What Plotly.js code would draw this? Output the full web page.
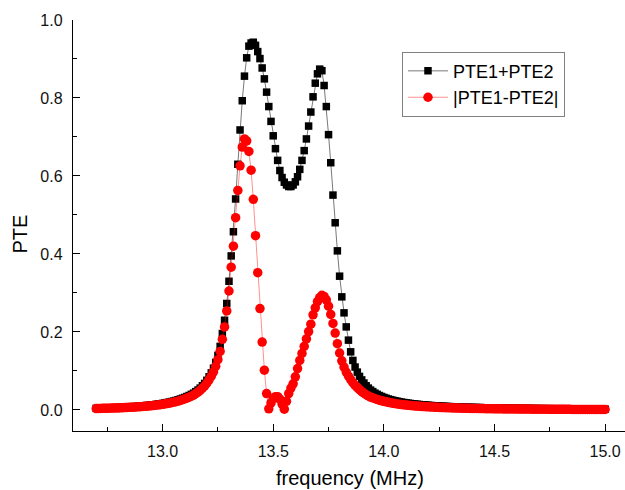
<!DOCTYPE html>
<html>
<head>
<meta charset="utf-8">
<script src="https://cdn.plot.ly/plotly-3.0.1.min.js"></script>
<style>html,body{margin:0;padding:0;background:#fff;}#chart{width:625px;height:490px;}</style>
</head>
<body>
<div id="chart"></div>
<script>
// frequency (MHz)
var frequency = [
12.70,12.71,12.72,12.73,12.74,12.75,12.76,12.77,12.78,12.79,
12.80,12.81,12.82,12.83,12.84,12.85,12.86,12.87,12.88,12.89,
12.90,12.91,12.92,12.93,12.94,12.95,12.96,12.97,12.98,12.99,
13.00,13.01,13.02,13.03,13.04,13.05,13.06,13.07,13.08,13.09,
13.10,13.11,13.12,13.13,13.14,13.15,13.16,13.17,13.18,13.19,
13.20,13.21,13.22,13.23,13.24,13.25,13.26,13.27,13.28,13.29,
13.30,13.31,13.32,13.33,13.34,13.35,13.36,13.37,13.38,13.39,
13.40,13.41,13.42,13.43,13.44,13.45,13.46,13.47,13.48,13.49,
13.50,13.51,13.52,13.53,13.54,13.55,13.56,13.57,13.58,13.59,
13.60,13.61,13.62,13.63,13.64,13.65,13.66,13.67,13.68,13.69,
13.70,13.71,13.72,13.73,13.74,13.75,13.76,13.77,13.78,13.79,
13.80,13.81,13.82,13.83,13.84,13.85,13.86,13.87,13.88,13.89,
13.90,13.91,13.92,13.93,13.94,13.95,13.96,13.97,13.98,13.99,
14.00,14.01,14.02,14.03,14.04,14.05,14.06,14.07,14.08,14.09,
14.10,14.11,14.12,14.13,14.14,14.15,14.16,14.17,14.18,14.19,
14.20,14.21,14.22,14.23,14.24,14.25,14.26,14.27,14.28,14.29,
14.30,14.31,14.32,14.33,14.34,14.35,14.36,14.37,14.38,14.39,
14.40,14.41,14.42,14.43,14.44,14.45,14.46,14.47,14.48,14.49,
14.50,14.51,14.52,14.53,14.54,14.55,14.56,14.57,14.58,14.59,
14.60,14.61,14.62,14.63,14.64,14.65,14.66,14.67,14.68,14.69,
14.70,14.71,14.72,14.73,14.74,14.75,14.76,14.77,14.78,14.79,
14.80,14.81,14.82,14.83,14.84,14.85,14.86,14.87,14.88,14.89,
14.90,14.91,14.92,14.93,14.94,14.95,14.96,14.97,14.98,14.99,
15.00
];

// PTE1+PTE2
var pteSum = [
0.0042,0.0044,0.0046,0.0048,0.0050,0.0052,0.0054,0.0056,0.0058,0.0060,
0.0062,0.0065,0.0068,0.0071,0.0074,0.0077,0.0081,0.0085,0.0089,0.0093,
0.0098,0.0103,0.0108,0.0114,0.0120,0.0127,0.0134,0.0142,0.0150,0.0159,
0.0168,0.0178,0.0189,0.0201,0.0214,0.0228,0.0243,0.026,0.028,0.030,
0.032,0.0345,0.037,0.040,0.043,0.047,0.051,0.056,0.062,0.068,
0.076,0.085,0.095,0.107,0.122,0.140,
0.163,0.196,0.230,0.273,0.330,0.395,0.457,0.541,0.630,0.718,
0.793,0.856,0.903,0.933,0.941,0.943,0.935,0.919,0.901,0.877,
0.849,0.815,0.778,0.740,0.703,0.670,0.640,0.614,0.596,0.584,
0.577,0.573,0.573,0.577,0.585,0.598,0.617,0.640,0.665,0.695,
0.728,0.764,0.803,0.838,0.862,0.874,0.870,0.832,0.778,0.706,
0.634,0.551,0.480,0.408,0.343,0.290,0.249,0.213,0.179,0.149,
0.127,0.110,0.097,0.086,0.077,0.069,0.062,0.056,0.051,0.047,
0.043,0.040,0.037,0.0345,0.032,0.030,0.028,0.0265,0.025,0.0236,
0.0224,0.0212,0.0201,0.0191,0.0182,0.0174,0.0166,0.0159,0.0152,0.0146,
0.0140,0.0134,0.0129,0.0124,0.0119,0.0115,0.0111,0.0107,0.0103,0.0100,
0.0097,0.0094,0.0091,0.0088,0.0085,0.0083,0.0080,0.0078,0.0076,0.0074,
0.0072,0.0070,0.0068,0.0066,0.0065,0.0063,0.0062,0.0060,0.0059,0.0057,
0.0056,0.0055,0.0054,0.0052,0.0051,0.0050,0.0049,0.0048,0.0047,0.0046,
0.0045,0.0044,0.0043,0.0043,0.0042,0.0041,0.0040,0.0040,0.0039,0.0038,
0.0038,0.0037,0.0036,0.0036,0.0035,0.0034,0.0034,0.0033,0.0033,0.0032,
0.0032,0.0031,0.0031,0.0030,0.0030,0.0029,0.0029,0.0028,0.0028,0.0028,
0.0027,0.0027,0.0026,0.0026,0.0026,0.0025,0.0025,0.0025,0.0024,0.0024,
0.0024,0.0023,0.0023,0.0023,0.0022
];

// |PTE1-PTE2|
var pteDiff = [
0.0036,0.0038,0.0039,0.0041,0.0043,0.0044,0.0046,0.0048,0.0049,0.0051,
0.0053,0.0055,0.0058,0.0060,0.0063,0.0066,0.0069,0.0072,0.0076,0.0079,
0.0083,0.0088,0.0092,0.0097,0.0102,0.0108,0.0114,0.0121,0.0128,0.0136,
0.0144,0.0153,0.0163,0.0173,0.0185,0.0197,0.0211,0.0226,0.0244,0.0262,
0.0281,0.0304,0.0327,0.0354,0.0382,0.0419,0.0456,0.0502,0.0558,0.0614,
0.0688,0.0772,0.0866,0.0978,0.1118,0.1290,
0.150,0.181,0.213,0.254,0.305,0.366,0.420,0.493,0.563,0.626,
0.674,0.695,0.690,0.663,0.615,0.540,0.447,0.352,0.260,0.174,
0.102,0.042,0.003,0.018,0.029,0.034,0.034,0.028,0.015,0.002,
0.022,0.042,0.056,0.067,0.085,0.106,0.127,0.145,0.163,0.182,
0.201,0.220,0.244,0.262,0.278,0.288,0.294,0.291,0.282,0.266,
0.245,0.222,0.197,0.170,0.146,0.126,0.110,0.097,0.087,0.078,
0.070,0.063,0.057,0.052,0.047,0.043,0.039,0.036,0.033,0.031,
0.029,0.027,0.025,0.0235,0.022,
0.0207,0.0195,0.0184,0.0174,0.0164,0.0155,0.0147,0.0139,0.0132,0.0125,
0.0119,0.0113,0.0108,0.0103,0.0098,0.0094,0.0090,0.0086,0.0082,0.0079,
0.0076,0.0073,0.0070,0.0067,0.0065,0.0062,0.0060,0.0058,0.0056,0.0054,
0.0052,0.0050,0.0049,0.0047,0.0046,0.0044,0.0043,0.0042,0.0040,0.0039,
0.0038,0.0037,0.0036,0.0035,0.0034,0.0033,0.0032,0.0031,0.0031,0.0030,
0.0029,0.0028,0.0028,0.0027,0.0026,0.0026,0.0025,0.0025,0.0024,0.0024,
0.0023,0.0023,0.0022,0.0022,0.0021,0.0021,0.0020,0.0020,0.0020,0.0019,
0.0019,0.0018,0.0018,0.0018,0.0017,0.0017,0.0017,0.0016,0.0016,0.0016,
0.0015,0.0015,0.0015,0.0015,0.0014,0.0014,0.0014,0.0014,0.0013,0.0013,
0.0013,0.0013,0.0012,0.0012,0.0012,0.0012,0.0012,0.0011,0.0011,0.0011
];

var xTickVals = [13.0, 13.5, 14.0, 14.5, 15.0];
var xTickText = ["13.0", "13.5", "14.0", "14.5", "15.0"];
var yTickVals = [0.0, 0.2, 0.4, 0.6, 0.8, 1.0];
var yTickText = ["0.0", "0.2", "0.4", "0.6", "0.8", "1.0"];
var seriesNames = ["PTE1+PTE2", "|PTE1-PTE2|"];

var FONT = "Arial, 'Liberation Sans', Helvetica, sans-serif";

var traces = [
  {
    x: frequency, y: pteSum, name: seriesNames[0],
    type: "scatter", mode: "lines+markers",
    line: {color: "#555555", width: 0.8},
    marker: {symbol: "square", size: 7.5, color: "#000000"}
  },
  {
    x: frequency, y: pteDiff, name: seriesNames[1],
    type: "scatter", mode: "lines+markers",
    line: {color: "rgba(255,0,0,0.55)", width: 0.8},
    marker: {symbol: "circle", size: 9.5, color: "#ff0000"}
  }
];

var layout = {
  width: 625, height: 490,
  margin: {l: 73, r: 0, t: 20, b: 59, pad: 0},
  paper_bgcolor: "#ffffff", plot_bgcolor: "#ffffff",
  font: {family: FONT, color: "#000000", size: 16},
  showlegend: true,
  xaxis: {
    range: [12.595, 15.09],
    tickmode: "array", tickvals: xTickVals, ticktext: xTickText,
    ticks: "inside", ticklen: 7, tickwidth: 1, tickcolor: "#000",
    showline: true, linecolor: "#000", linewidth: 1.2, mirror: false,
    showgrid: false, zeroline: false,
    tickfont: {family: FONT, size: 16, color: "#111"},
    ticklabelstandoff: 6,
    minor: {tickmode: "array", tickvals: [12.75, 13.25, 13.75, 14.25, 14.75], ticks: "inside", ticklen: 4, tickwidth: 1, tickcolor: "#000", showgrid: false}
  },
  yaxis: {
    range: [-0.054, 1.0],
    tickmode: "array", tickvals: yTickVals, ticktext: yTickText,
    ticks: "inside", ticklen: 7, tickwidth: 1, tickcolor: "#000",
    showline: true, linecolor: "#000", linewidth: 1.2, mirror: false,
    showgrid: false, zeroline: false,
    tickfont: {family: FONT, size: 16, color: "#111"},
    ticklabelstandoff: 6,
    minor: {tickmode: "array", tickvals: [0.1, 0.3, 0.5, 0.7, 0.9], ticks: "inside", ticklen: 4, tickwidth: 1, tickcolor: "#000", showgrid: false}
  },
  legend: {
    x: 0.596, y: 0.923, xanchor: "left", yanchor: "top",
    bgcolor: "#ffffff", bordercolor: "#808080", borderwidth: 1,
    font: {family: FONT, size: 18, color: "#000"},
    tracegroupgap: 0, itemwidth: 40
  },
  annotations: [
    {text: "frequency (MHz)", xref: "paper", yref: "paper", x: 0.502, y: -0.114,
     xanchor: "center", yanchor: "middle", showarrow: false,
     font: {family: FONT, size: 20, color: "#000"}},
    {text: "PTE", xref: "paper", yref: "paper", x: -0.096, y: 0.478, textangle: -90,
     xanchor: "center", yanchor: "middle", showarrow: false,
     font: {family: FONT, size: 20, color: "#000"}}
  ]
};

Plotly.newPlot("chart", traces, layout, {displayModeBar: false, staticPlot: true});
</script>
</body>
</html>
